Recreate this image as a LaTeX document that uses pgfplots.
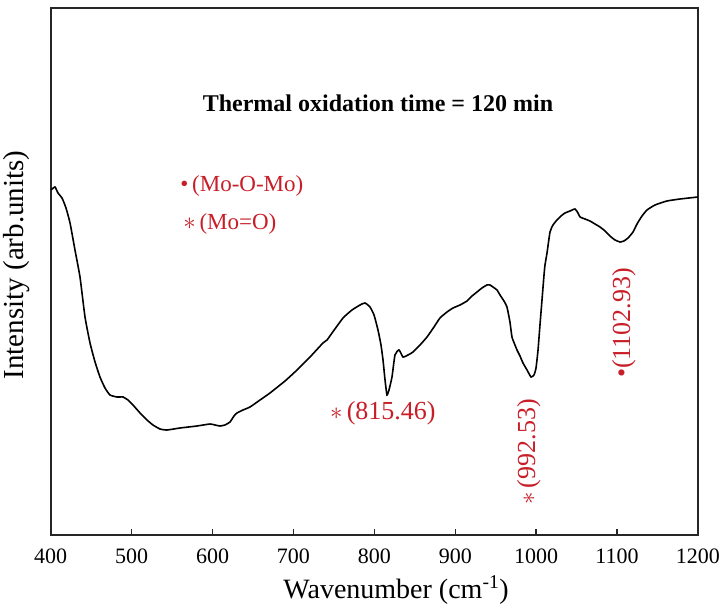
\documentclass[border=0pt]{standalone}
\usepackage{pgfplots}
\pgfplotsset{compat=1.18}
\usepackage{fontspec}
\setmainfont{Liberation Serif}
\definecolor{annot}{RGB}{200,30,40}
\begin{document}
\begin{tikzpicture}
\path[use as bounding box] (0,0) rectangle (728pt,610pt);
\begin{axis}[
  at={(50.7pt,75pt)}, anchor=south west,
  scale only axis, width=647.3pt, height=527pt,
  xmin=400, xmax=1200, ymin=0, ymax=527,
  xtick={400,500,...,1200},
  ytick=\empty,
  tick align=inside,
  xtick pos=bottom,
  major tick length=6pt,
  axis line style={line width=1.6pt, black!85},
  every tick/.style={line width=1.4pt, black!85},
  xticklabel style={font=\fontsize{22}{26}\selectfont, yshift=-10pt},
  /pgf/number format/assume math mode=true,
  /pgf/number format/set thousands separator={},
  clip=false,
]
\addplot[black, line width=1.6pt, smooth, tension=0.3] coordinates {
(400.4,345) (405.3,348) (409.0,342) (414.0,337) (418.9,327) (423.9,312) (430.0,285)
(436.2,258) (442.4,218) (448.6,192) (454.8,173) (460.9,158) (467.1,147) (473.3,140)
(481.9,138) (489.4,138) (495.5,135) (501.7,130) (510.4,122) (519.0,115) (526.4,110)
(535.1,106) (543.7,105) (559.8,107) (580.8,109) (596.9,111) (603.1,110) (609.2,109)
(615.4,110) (621.6,113) (626.5,119) (630.2,122) (637.7,125) (646.3,128) (658.7,135)
(671.0,142) (689.6,154) (704.4,165) (720.5,178) (736.5,192) (741.5,195) (747.7,202)
(761.3,217) (772.4,225) (782.3,230) (788.4,232) (794.6,228) (799.6,220) (804.5,205)
(808.2,190) (810.7,175) (813.2,155) (815.6,140) (818.1,145) (821.8,158) (825.5,180)
(830.5,185) (835.4,178) (841.6,180) (847.8,183) (856.4,190) (865.1,198) (873.7,208)
(881.1,217) (889.8,223) (897.2,227) (905.9,230) (914.5,234) (920.7,239) (926.9,243)
(933.0,247) (939.2,250) (942.9,250) (946.6,248) (951.6,245) (955.3,240) (960.2,234)
(963.9,228) (967.6,213) (970.1,198) (973.8,190) (976.3,185) (980.0,179) (983.7,172)
(988.7,165) (993.6,158) (997.3,160) (999.8,167) (1002.3,185) (1004.7,210) (1007.2,235)
(1009.7,260) (1010.9,270) (1013.4,282) (1017.1,303) (1020.8,310) (1025.7,315)
(1030.7,319) (1035.6,322) (1041.8,324) (1048.0,326) (1051.7,322) (1054.2,318)
(1060.3,316) (1066.5,314) (1072.7,311) (1078.9,308) (1085.1,304) (1091.2,299)
(1097.4,295) (1103.6,293) (1108.5,294) (1113.5,297) (1119.7,303) (1124.6,311)
(1130.8,319) (1137.0,325) (1146.9,330) (1161.7,334) (1177.8,336) (1200,338)
};
\node[font=\fontsize{24}{28}\selectfont\bfseries] at (axis cs:804.5,432) {Thermal oxidation time = 120 min};
\node[anchor=west, text=annot, font=\fontsize{23}{27}\selectfont, inner sep=0pt] at (axis cs:559.9,349) {\textbullet\,(Mo-O-Mo)};
\node[anchor=west, text=annot, font=\fontsize{23}{27}\selectfont, inner sep=0pt] at (axis cs:563.6,311) {$\ast$\,(Mo=O)};
\node[anchor=west, text=annot, font=\fontsize{26}{30}\selectfont, inner sep=0pt] at (axis cs:745.0,122) {$\ast$\,(815.46)};
\node[anchor=west, rotate=90, text=annot, font=\fontsize{26}{30}\selectfont, inner sep=0pt] at (axis cs:991.0,30) {$\ast$\,(992.53)};
\node[anchor=west, rotate=90, text=annot, font=\fontsize{26}{30}\selectfont, inner sep=0pt] at (axis cs:1108.5,157) {\textbullet(1102.93)};
\node[font=\fontsize{28}{32}\selectfont] at (axis cs:826.8,-55) {Wavenumber (cm\textsuperscript{-1})};
\node[rotate=90, font=\fontsize{29}{33}\selectfont] at (axis cs:358.4,270) {Intensity (arb.units)};
\end{axis}
\end{tikzpicture}
\end{document}
